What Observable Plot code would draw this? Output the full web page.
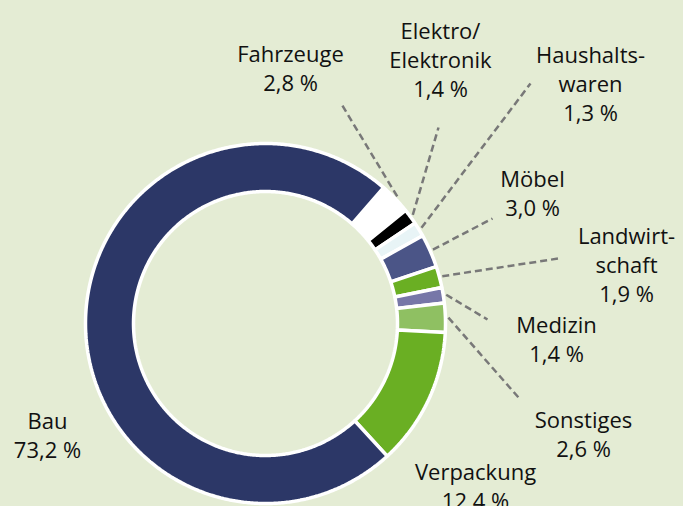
<!DOCTYPE html>
<html><head><meta charset="utf-8">
<script src="https://cdn.jsdelivr.net/npm/d3@7"></script>
<script src="https://cdn.jsdelivr.net/npm/@observablehq/plot@0.6"></script>
<style>html,body{margin:0;padding:0;background:#e4ecd4;overflow:hidden;}</style>
</head><body><div id="chart"></div>
<script>
// ---- data ----
const categories = ["Fahrzeuge", "Elektro/\nElektronik", "Haushalts-\nwaren", "Möbel", "Landwirt-\nschaft", "Medizin", "Sonstiges", "Verpackung", "Bau"];
const shares = [2.8, 1.4, 1.3, 3.0, 1.9, 1.4, 2.6, 12.4, 73.2];
const shareLabels = ["2,8 %", "1,4 %", "1,3 %", "3,0 %", "1,9 %", "1,4 %", "2,6 %", "12,4 %", "73,2 %"];

// ---- styles / layout ----
const sliceColors = ["#ffffff", "#000000", "#e8f4f6", "#4b5587", "#6aaf23", "#7777a8", "#8fc062", "#6aaf23", "#2c3767"];
const W = 683, H = 506, CX = 265, CY = 323;
const R_IN = 132, R_OUT = 180, R_LEAD = 183;
const START_DEG = 41;
const labelAt = [[290, 67], [440, 58], [590, 82], [532, 192], [626, 263], [556, 338], [583, 433], [475, 485], [47, 434]];
const leaderEnd = [[340, 102], [438, 127], [530, 83], [492, 218], [558, 258], [487, 319], [518, 397], null, null];

// ---- build geometry from data ----
const total = d3.sum(shares);
let cum = 0;
const slices = shares.map((v, i) => {
  const a0 = START_DEG + 360 * cum / total;
  cum += v;
  const a1 = START_DEG + 360 * cum / total;
  return {i, a0, a1, mid: (a0 + a1) / 2, color: sliceColors[i]};
});
const rad = d => d * Math.PI / 180;
const pt = (r, deg) => ({x: r * Math.sin(rad(deg)), y: -r * Math.cos(rad(deg))});
const polyPts = [];
for (const s of slices) {
  const n = Math.max(4, Math.ceil((s.a1 - s.a0) / 0.5));
  for (let k = 0; k <= n; k++) polyPts.push({...pt(R_OUT, s.a0 + (s.a1 - s.a0) * k / n), key: s.i, color: s.color});
  for (let k = n; k >= 0; k--) polyPts.push({...pt(R_IN, s.a0 + (s.a1 - s.a0) * k / n), key: s.i, color: s.color});
}
const leaders = slices.filter(s => leaderEnd[s.i]).map(s => {
  const p = pt(R_LEAD, s.mid);
  return {x1: p.x, y1: p.y, x2: leaderEnd[s.i][0] - CX, y2: leaderEnd[s.i][1] - CY};
});
const labels = categories.map((c, i) => ({text: c + "\n" + shareLabels[i], x: labelAt[i][0] - CX, y: labelAt[i][1] - CY}));

const chart = Plot.plot({
  width: W, height: H, margin: 0,
  x: {domain: [-CX, W - CX], range: [0, W], axis: null},
  y: {domain: [-CY, H - CY], range: [0, H], axis: null},
  color: {type: "identity"},
  style: {background: "#e4ecd4", fontFamily: "'Open Sans', sans-serif"},
  marks: [
    Plot.line(polyPts, {x: "x", y: "y", z: "key", fill: "color", stroke: "white", strokeWidth: 3.5, curve: "linear-closed", strokeLinejoin: "miter"}),
    Plot.link(leaders, {x1: "x1", y1: "y1", x2: "x2", y2: "y2", stroke: "#787878", strokeWidth: 2.5, strokeDasharray: "7,4"}),
    Plot.text(labels, {x: "x", y: "y", text: "text", fontSize: 22, lineHeight: 1.32, fill: "#111111"})
  ]
});
document.getElementById("chart").appendChild(chart);
</script>
</body></html>
